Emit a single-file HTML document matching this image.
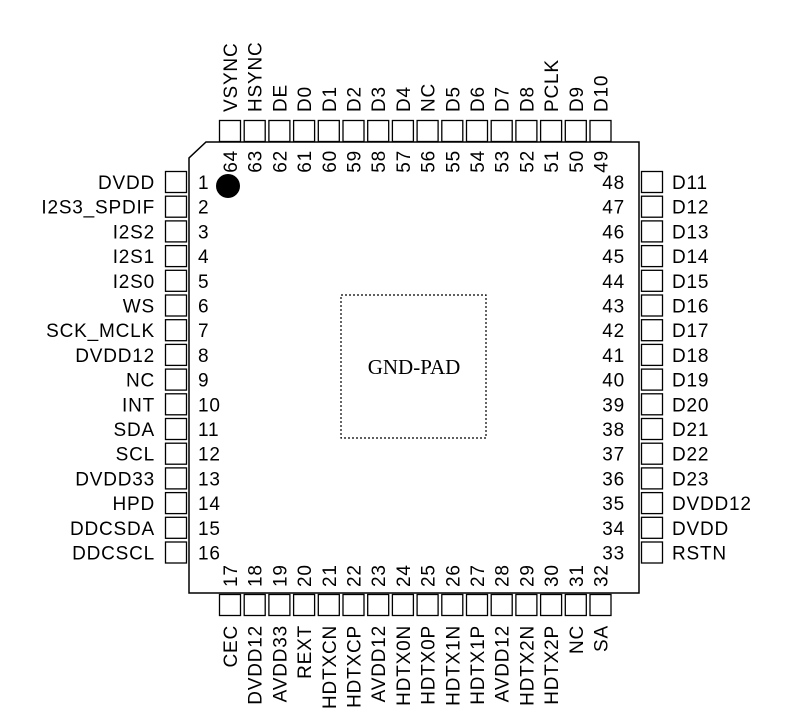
<!DOCTYPE html>
<html><head><meta charset="utf-8"><style>body{margin:0;background:#fff}svg{display:block}.k rect{fill:none;stroke:#000;stroke-width:1.3}.k text{letter-spacing:0.8px}.e{text-anchor:end}</style></head><body>
<svg width="790" height="726" xmlns="http://www.w3.org/2000/svg" font-family="Liberation Sans, Arial, sans-serif" font-size="19" fill="#000">
<polygon points="206,142 639,142 639,593 189,593 189,158" fill="none" stroke="#000" stroke-width="1.5"/>
<circle cx="228" cy="186" r="12"/>
<rect x="341" y="295" width="145" height="143" fill="none" stroke="#000" stroke-width="1.2" stroke-dasharray="2,2"/>
<text x="414" y="374" font-family="Liberation Serif, serif" font-size="21" text-anchor="middle">GND-PAD</text>
<g class="k">
<g transform="translate(0,182)"><rect x="165.5" y="-10.5" width="21" height="21"/><text x="155" y="7" class="e">DVDD</text><text x="198" y="7">1</text><rect x="641.5" y="-10.5" width="21" height="21"/><text x="672" y="7">D11</text><text x="625" y="7" class="e">48</text></g>
<g transform="translate(0,206.7)"><rect x="165.5" y="-10.5" width="21" height="21"/><text x="155" y="7" class="e">I2S3_SPDIF</text><text x="198" y="7">2</text><rect x="641.5" y="-10.5" width="21" height="21"/><text x="672" y="7">D12</text><text x="625" y="7" class="e">47</text></g>
<g transform="translate(0,231.4)"><rect x="165.5" y="-10.5" width="21" height="21"/><text x="155" y="7" class="e">I2S2</text><text x="198" y="7">3</text><rect x="641.5" y="-10.5" width="21" height="21"/><text x="672" y="7">D13</text><text x="625" y="7" class="e">46</text></g>
<g transform="translate(0,256.1)"><rect x="165.5" y="-10.5" width="21" height="21"/><text x="155" y="7" class="e">I2S1</text><text x="198" y="7">4</text><rect x="641.5" y="-10.5" width="21" height="21"/><text x="672" y="7">D14</text><text x="625" y="7" class="e">45</text></g>
<g transform="translate(0,280.8)"><rect x="165.5" y="-10.5" width="21" height="21"/><text x="155" y="7" class="e">I2S0</text><text x="198" y="7">5</text><rect x="641.5" y="-10.5" width="21" height="21"/><text x="672" y="7">D15</text><text x="625" y="7" class="e">44</text></g>
<g transform="translate(0,305.5)"><rect x="165.5" y="-10.5" width="21" height="21"/><text x="155" y="7" class="e">WS</text><text x="198" y="7">6</text><rect x="641.5" y="-10.5" width="21" height="21"/><text x="672" y="7">D16</text><text x="625" y="7" class="e">43</text></g>
<g transform="translate(0,330.2)"><rect x="165.5" y="-10.5" width="21" height="21"/><text x="155" y="7" class="e">SCK_MCLK</text><text x="198" y="7">7</text><rect x="641.5" y="-10.5" width="21" height="21"/><text x="672" y="7">D17</text><text x="625" y="7" class="e">42</text></g>
<g transform="translate(0,354.9)"><rect x="165.5" y="-10.5" width="21" height="21"/><text x="155" y="7" class="e">DVDD12</text><text x="198" y="7">8</text><rect x="641.5" y="-10.5" width="21" height="21"/><text x="672" y="7">D18</text><text x="625" y="7" class="e">41</text></g>
<g transform="translate(0,379.6)"><rect x="165.5" y="-10.5" width="21" height="21"/><text x="155" y="7" class="e">NC</text><text x="198" y="7">9</text><rect x="641.5" y="-10.5" width="21" height="21"/><text x="672" y="7">D19</text><text x="625" y="7" class="e">40</text></g>
<g transform="translate(0,404.3)"><rect x="165.5" y="-10.5" width="21" height="21"/><text x="155" y="7" class="e">INT</text><text x="198" y="7">10</text><rect x="641.5" y="-10.5" width="21" height="21"/><text x="672" y="7">D20</text><text x="625" y="7" class="e">39</text></g>
<g transform="translate(0,429)"><rect x="165.5" y="-10.5" width="21" height="21"/><text x="155" y="7" class="e">SDA</text><text x="198" y="7">11</text><rect x="641.5" y="-10.5" width="21" height="21"/><text x="672" y="7">D21</text><text x="625" y="7" class="e">38</text></g>
<g transform="translate(0,453.7)"><rect x="165.5" y="-10.5" width="21" height="21"/><text x="155" y="7" class="e">SCL</text><text x="198" y="7">12</text><rect x="641.5" y="-10.5" width="21" height="21"/><text x="672" y="7">D22</text><text x="625" y="7" class="e">37</text></g>
<g transform="translate(0,478.4)"><rect x="165.5" y="-10.5" width="21" height="21"/><text x="155" y="7" class="e">DVDD33</text><text x="198" y="7">13</text><rect x="641.5" y="-10.5" width="21" height="21"/><text x="672" y="7">D23</text><text x="625" y="7" class="e">36</text></g>
<g transform="translate(0,503.1)"><rect x="165.5" y="-10.5" width="21" height="21"/><text x="155" y="7" class="e">HPD</text><text x="198" y="7">14</text><rect x="641.5" y="-10.5" width="21" height="21"/><text x="672" y="7">DVDD12</text><text x="625" y="7" class="e">35</text></g>
<g transform="translate(0,527.8)"><rect x="165.5" y="-10.5" width="21" height="21"/><text x="155" y="7" class="e">DDCSDA</text><text x="198" y="7">15</text><rect x="641.5" y="-10.5" width="21" height="21"/><text x="672" y="7">DVDD</text><text x="625" y="7" class="e">34</text></g>
<g transform="translate(0,552.5)"><rect x="165.5" y="-10.5" width="21" height="21"/><text x="155" y="7" class="e">DDCSCL</text><text x="198" y="7">16</text><rect x="641.5" y="-10.5" width="21" height="21"/><text x="672" y="7">RSTN</text><text x="625" y="7" class="e">33</text></g>

<g transform="translate(230,0)"><rect x="-10.5" y="120.5" width="21" height="21"/><rect x="-10.5" y="594.5" width="21" height="21"/><text transform="translate(7,112) rotate(-90)">VSYNC</text><text transform="translate(7,150) rotate(-90)" class="e">64</text><text transform="translate(7,625) rotate(-90)" class="e">CEC</text><text transform="translate(7,587) rotate(-90)">17</text></g>
<g transform="translate(254.7,0)"><rect x="-10.5" y="120.5" width="21" height="21"/><rect x="-10.5" y="594.5" width="21" height="21"/><text transform="translate(7,112) rotate(-90)">HSYNC</text><text transform="translate(7,150) rotate(-90)" class="e">63</text><text transform="translate(7,625) rotate(-90)" class="e">DVDD12</text><text transform="translate(7,587) rotate(-90)">18</text></g>
<g transform="translate(279.4,0)"><rect x="-10.5" y="120.5" width="21" height="21"/><rect x="-10.5" y="594.5" width="21" height="21"/><text transform="translate(7,112) rotate(-90)">DE</text><text transform="translate(7,150) rotate(-90)" class="e">62</text><text transform="translate(7,625) rotate(-90)" class="e">AVDD33</text><text transform="translate(7,587) rotate(-90)">19</text></g>
<g transform="translate(304.1,0)"><rect x="-10.5" y="120.5" width="21" height="21"/><rect x="-10.5" y="594.5" width="21" height="21"/><text transform="translate(7,112) rotate(-90)">D0</text><text transform="translate(7,150) rotate(-90)" class="e">61</text><text transform="translate(7,625) rotate(-90)" class="e">REXT</text><text transform="translate(7,587) rotate(-90)">20</text></g>
<g transform="translate(328.8,0)"><rect x="-10.5" y="120.5" width="21" height="21"/><rect x="-10.5" y="594.5" width="21" height="21"/><text transform="translate(7,112) rotate(-90)">D1</text><text transform="translate(7,150) rotate(-90)" class="e">60</text><text transform="translate(7,625) rotate(-90)" class="e">HDTXCN</text><text transform="translate(7,587) rotate(-90)">21</text></g>
<g transform="translate(353.5,0)"><rect x="-10.5" y="120.5" width="21" height="21"/><rect x="-10.5" y="594.5" width="21" height="21"/><text transform="translate(7,112) rotate(-90)">D2</text><text transform="translate(7,150) rotate(-90)" class="e">59</text><text transform="translate(7,625) rotate(-90)" class="e">HDTXCP</text><text transform="translate(7,587) rotate(-90)">22</text></g>
<g transform="translate(378.2,0)"><rect x="-10.5" y="120.5" width="21" height="21"/><rect x="-10.5" y="594.5" width="21" height="21"/><text transform="translate(7,112) rotate(-90)">D3</text><text transform="translate(7,150) rotate(-90)" class="e">58</text><text transform="translate(7,625) rotate(-90)" class="e">AVDD12</text><text transform="translate(7,587) rotate(-90)">23</text></g>
<g transform="translate(402.9,0)"><rect x="-10.5" y="120.5" width="21" height="21"/><rect x="-10.5" y="594.5" width="21" height="21"/><text transform="translate(7,112) rotate(-90)">D4</text><text transform="translate(7,150) rotate(-90)" class="e">57</text><text transform="translate(7,625) rotate(-90)" class="e">HDTX0N</text><text transform="translate(7,587) rotate(-90)">24</text></g>
<g transform="translate(427.6,0)"><rect x="-10.5" y="120.5" width="21" height="21"/><rect x="-10.5" y="594.5" width="21" height="21"/><text transform="translate(7,112) rotate(-90)">NC</text><text transform="translate(7,150) rotate(-90)" class="e">56</text><text transform="translate(7,625) rotate(-90)" class="e">HDTX0P</text><text transform="translate(7,587) rotate(-90)">25</text></g>
<g transform="translate(452.3,0)"><rect x="-10.5" y="120.5" width="21" height="21"/><rect x="-10.5" y="594.5" width="21" height="21"/><text transform="translate(7,112) rotate(-90)">D5</text><text transform="translate(7,150) rotate(-90)" class="e">55</text><text transform="translate(7,625) rotate(-90)" class="e">HDTX1N</text><text transform="translate(7,587) rotate(-90)">26</text></g>
<g transform="translate(477,0)"><rect x="-10.5" y="120.5" width="21" height="21"/><rect x="-10.5" y="594.5" width="21" height="21"/><text transform="translate(7,112) rotate(-90)">D6</text><text transform="translate(7,150) rotate(-90)" class="e">54</text><text transform="translate(7,625) rotate(-90)" class="e">HDTX1P</text><text transform="translate(7,587) rotate(-90)">27</text></g>
<g transform="translate(501.7,0)"><rect x="-10.5" y="120.5" width="21" height="21"/><rect x="-10.5" y="594.5" width="21" height="21"/><text transform="translate(7,112) rotate(-90)">D7</text><text transform="translate(7,150) rotate(-90)" class="e">53</text><text transform="translate(7,625) rotate(-90)" class="e">AVDD12</text><text transform="translate(7,587) rotate(-90)">28</text></g>
<g transform="translate(526.4,0)"><rect x="-10.5" y="120.5" width="21" height="21"/><rect x="-10.5" y="594.5" width="21" height="21"/><text transform="translate(7,112) rotate(-90)">D8</text><text transform="translate(7,150) rotate(-90)" class="e">52</text><text transform="translate(7,625) rotate(-90)" class="e">HDTX2N</text><text transform="translate(7,587) rotate(-90)">29</text></g>
<g transform="translate(551.1,0)"><rect x="-10.5" y="120.5" width="21" height="21"/><rect x="-10.5" y="594.5" width="21" height="21"/><text transform="translate(7,112) rotate(-90)">PCLK</text><text transform="translate(7,150) rotate(-90)" class="e">51</text><text transform="translate(7,625) rotate(-90)" class="e">HDTX2P</text><text transform="translate(7,587) rotate(-90)">30</text></g>
<g transform="translate(575.8,0)"><rect x="-10.5" y="120.5" width="21" height="21"/><rect x="-10.5" y="594.5" width="21" height="21"/><text transform="translate(7,112) rotate(-90)">D9</text><text transform="translate(7,150) rotate(-90)" class="e">50</text><text transform="translate(7,625) rotate(-90)" class="e">NC</text><text transform="translate(7,587) rotate(-90)">31</text></g>
<g transform="translate(600.5,0)"><rect x="-10.5" y="120.5" width="21" height="21"/><rect x="-10.5" y="594.5" width="21" height="21"/><text transform="translate(7,112) rotate(-90)">D10</text><text transform="translate(7,150) rotate(-90)" class="e">49</text><text transform="translate(7,625) rotate(-90)" class="e">SA</text><text transform="translate(7,587) rotate(-90)">32</text></g>
</g>
</svg>
</body></html>
